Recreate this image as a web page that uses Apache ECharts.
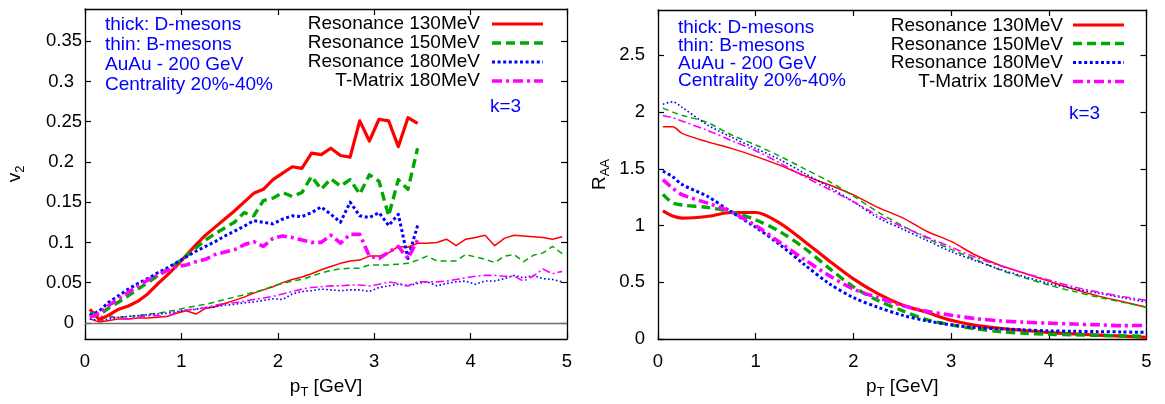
<!DOCTYPE html>
<html>
<head>
<meta charset="utf-8">
<script src="https://cdn.jsdelivr.net/npm/echarts@6/dist/echarts.min.js"></script>
<style>
html,body{margin:0;padding:0;background:#fff;}
#c{width:1165px;height:404px;}
</style>
</head>
<body>
<div id="c"></div>
<script>
// ---------------- DATA ----------------
// Left panel: elliptic flow v2 vs pT
const v2PtD = [0.05,0.15,0.25,0.35,0.45,0.55,0.65,0.75,0.85,0.95,1.05,1.15,1.25,1.35,1.45,1.55,1.65,1.75,1.85,1.95,2.05,2.15,2.25,2.35,2.45,2.55,2.65,2.75,2.85,2.95,3.05,3.15,3.25,3.35,3.45];
const v2D_res130 = [0.017,0.004,0.010,0.017,0.021,0.027,0.036,0.048,0.059,0.071,0.084,0.097,0.109,0.119,0.129,0.139,0.150,0.161,0.166,0.178,0.186,0.194,0.192,0.211,0.209,0.217,0.208,0.206,0.251,0.226,0.253,0.251,0.219,0.255,0.248];
const v2D_res150 = [0.012,0.010,0.019,0.026,0.034,0.042,0.050,0.058,0.066,0.074,0.083,0.093,0.103,0.111,0.118,0.125,0.137,0.133,0.152,0.155,0.162,0.157,0.162,0.182,0.166,0.179,0.170,0.178,0.160,0.184,0.176,0.133,0.178,0.166,0.217];
const v2D_res180 = [0.009,0.015,0.026,0.034,0.042,0.049,0.055,0.062,0.068,0.075,0.082,0.089,0.095,0.101,0.108,0.114,0.120,0.127,0.125,0.123,0.129,0.133,0.132,0.137,0.144,0.135,0.125,0.150,0.133,0.131,0.137,0.121,0.135,0.080,0.121];
const v2D_tm180 = [0.007,0.012,0.022,0.030,0.038,0.046,0.053,0.059,0.065,0.070,0.072,0.076,0.079,0.085,0.088,0.091,0.097,0.101,0.095,0.105,0.108,0.106,0.103,0.100,0.100,0.109,0.099,0.110,0.110,0.083,0.080,0.088,0.095,0.080,0.103];

const v2PtB = [0.05,0.15,0.25,0.35,0.45,0.55,0.65,0.75,0.85,0.95,1.05,1.15,1.25,1.35,1.45,1.55,1.65,1.75,1.85,1.95,2.05,2.15,2.25,2.35,2.45,2.55,2.65,2.75,2.85,2.95,3.05,3.15,3.25,3.35,3.45,3.55,3.65,3.75,3.85,3.95,4.05,4.15,4.25,4.35,4.45,4.55,4.65,4.75,4.85,4.95];
const v2B_res130 = [0.005,0.001,0.003,0.005,0.005,0.006,0.006,0.007,0.008,0.012,0.015,0.011,0.018,0.020,0.024,0.028,0.032,0.037,0.041,0.045,0.050,0.054,0.057,0.061,0.066,0.070,0.074,0.077,0.078,0.083,0.083,0.087,0.095,0.094,0.099,0.099,0.100,0.104,0.096,0.104,0.106,0.109,0.096,0.105,0.109,0.108,0.107,0.106,0.104,0.107];
const v2B_res150 = [0.009,0.006,0.007,0.007,0.008,0.009,0.011,0.012,0.014,0.016,0.019,0.021,0.023,0.026,0.029,0.032,0.035,0.038,0.041,0.046,0.049,0.052,0.054,0.058,0.062,0.065,0.067,0.068,0.068,0.072,0.072,0.072,0.073,0.074,0.078,0.083,0.077,0.077,0.077,0.085,0.082,0.079,0.075,0.083,0.085,0.076,0.084,0.087,0.095,0.086];
const v2B_res180 = [0.005,0.003,0.005,0.007,0.008,0.009,0.010,0.011,0.012,0.014,0.016,0.017,0.019,0.020,0.022,0.023,0.025,0.026,0.028,0.030,0.029,0.036,0.039,0.040,0.042,0.041,0.040,0.041,0.041,0.039,0.044,0.046,0.048,0.046,0.049,0.051,0.046,0.049,0.051,0.052,0.048,0.052,0.052,0.055,0.059,0.056,0.059,0.055,0.054,0.051];
const v2B_tm180 = [0.010,0.008,0.009,0.006,0.005,0.007,0.009,0.009,0.008,0.013,0.016,0.017,0.019,0.022,0.024,0.025,0.027,0.029,0.031,0.033,0.036,0.039,0.042,0.044,0.045,0.046,0.046,0.047,0.047,0.046,0.048,0.051,0.049,0.046,0.051,0.051,0.051,0.052,0.054,0.056,0.058,0.059,0.059,0.058,0.058,0.052,0.058,0.067,0.061,0.064];

// Right panel: nuclear modification factor R_AA vs pT
const raaPt = [0.05,0.15,0.25,0.5,0.75,1.0,1.25,1.5,1.75,2.0,2.25,2.5,2.75,3.0,3.25,3.5,3.75,4.0,4.25,4.5,4.75,5.0];
const raaD_res130 = [1.13,1.085,1.065,1.08,1.115,1.115,1.02,0.86,0.69,0.53,0.40,0.30,0.235,0.165,0.12,0.095,0.075,0.057,0.045,0.035,0.025,0.015];
const raaD_res150 = [1.275,1.20,1.18,1.16,1.12,1.05,0.945,0.80,0.625,0.46,0.34,0.25,0.17,0.125,0.09,0.065,0.05,0.042,0.037,0.032,0.028,0.023];
const raaD_res180 = [1.48,1.43,1.36,1.26,1.12,0.985,0.83,0.655,0.49,0.365,0.28,0.21,0.16,0.125,0.10,0.09,0.08,0.072,0.068,0.065,0.062,0.058];
const raaD_tm180 = [1.405,1.33,1.27,1.20,1.12,1.0,0.85,0.70,0.56,0.44,0.365,0.295,0.245,0.21,0.18,0.16,0.148,0.14,0.132,0.125,0.118,0.12];
const raaB_res130 = [1.87,1.87,1.81,1.74,1.68,1.61,1.53,1.44,1.36,1.27,1.16,1.07,0.95,0.86,0.74,0.65,0.58,0.51,0.44,0.38,0.33,0.28];
const raaB_res150 = [2.035,2.00,1.97,1.91,1.80,1.71,1.61,1.50,1.39,1.26,1.12,1.00,0.89,0.79,0.70,0.61,0.54,0.475,0.42,0.37,0.325,0.28];
const raaB_res180 = [2.07,2.09,2.04,1.89,1.78,1.68,1.58,1.46,1.34,1.21,1.07,0.97,0.87,0.77,0.69,0.615,0.55,0.49,0.445,0.405,0.365,0.325];
const raaB_tm180 = [1.97,1.95,1.92,1.84,1.75,1.66,1.55,1.43,1.32,1.21,1.09,0.99,0.90,0.81,0.72,0.645,0.58,0.52,0.46,0.415,0.375,0.34];

// Tick labels
const xTicks = [0,1,2,3,4,5];
const v2Ticks = [0,0.05,0.1,0.15,0.2,0.25,0.3,0.35];
const raaTicks = [0,0.5,1,1.5,2,2.5];

// Text
const legendNames = ['Resonance 130MeV','Resonance 150MeV','Resonance 180MeV','T-Matrix 180MeV'];
const annotLines = ['thick: D-mesons','thin: B-mesons','AuAu - 200 GeV','Centrality 20%-40%'];
const kText = 'k=3';

// ---------------- STYLE ----------------
const FONT = '"Liberation Sans", Arial, Helvetica, sans-serif';
const FS = 19;
const TFS = 18.5;
const colors = ['#ff0000','#00a800','#0000ff','#ff00ff'];
const thickDash = ['solid',[9,5],[3,2.6],[10,4,3,4]];
const thinDash = ['solid',[6,4],[1.6,2.4],[8,3,2,3]];
const thickW = [3.2,3.4,3,3.6];
const thinW = [1.5,1.5,1.6,1.6];

function pairs(xs, ys){ return xs.map((x,i)=>[x, ys[i]]); }
function mk(name, xs, ys, gi, k, thick, smooth){
  return {
    type:'line', name: name, xAxisIndex: gi*2, yAxisIndex: gi*2,
    data: pairs(xs, ys), symbol:'none', showSymbol:false, smooth: smooth||false,
    clip:true, animation:false, silent:true,
    lineStyle:{color: colors[k], width: thick? thickW[k] : thinW[k], type: thick? thickDash[k] : thinDash[k], cap:'butt', join:'round'},
    z: thick? 3 : 2
  };
}

const tickText = {color:'#000', fontFamily: FONT, fontSize: TFS};
const subRich = {
  a:{fontFamily:FONT, fontSize:FS, color:'#000'},
  s:{fontFamily:FONT, fontSize:13, color:'#000', padding:[11,0,0,0]}
};
function xAxis(gi, pos, showLabel, name){
  const ax = {
    type:'value', gridIndex: gi, position: pos, min:0, max:5, interval:1,
    axisLine:{show:true, onZero:false, lineStyle:{color:'#000', width:1.3}},
    axisTick:{show:true, inside:true, length:6, lineStyle:{color:'#000', width:1.2}},
    axisLabel: Object.assign({show: showLabel, margin:13}, tickText),
    splitLine:{show:false}
  };
  if (name){
    ax.name = name; ax.nameLocation='middle'; ax.nameGap = 36;
    ax.nameTextStyle = {rich: subRich};
  }
  return ax;
}
function yAxis(gi, pos, showLabel, min, max, ticks, name, gap, labelCfg){
  const ax = {
    type:'value', gridIndex: gi, position: pos, min:min, max:max,
    axisLine:{show:true, onZero:false, lineStyle:{color:'#000', width:1.3}},
    axisTick:{show:true, inside:true, length:6, customValues: ticks, lineStyle:{color:'#000', width:1.2}},
    axisLabel: Object.assign({show: showLabel, customValues: ticks}, tickText, labelCfg||{}),
    splitLine:{show:false}
  };
  if (name){
    ax.name = name; ax.nameLocation='middle'; ax.nameGap = gap; ax.nameRotate = 90;
    ax.nameTextStyle = {rich: subRich};
  }
  return ax;
}

// left panel tick labels: two-decimal labels sit further right (as in the figure)
const v2LabelCfg = {
  margin:3,
  formatter: function(v){
    const s = String(+v.toFixed(2));
    return (s.length >= 4) ? '{l|' + s + '}' : '{sh|' + s + '}';
  },
  rich:{
    l:{fontFamily:FONT, fontSize:TFS, color:'#000'},
    sh:{fontFamily:FONT, fontSize:TFS, color:'#000', padding:[0,8,0,0]}
  }
};
const raaLabelCfg = {margin:13};

const series = [];
const dSets = [v2D_res130, v2D_res150, v2D_res180, v2D_tm180];
const bSets = [v2B_res130, v2B_res150, v2B_res180, v2B_tm180];
const rdSets = [raaD_res130, raaD_res150, raaD_res180, raaD_tm180];
const rbSets = [raaB_res130, raaB_res150, raaB_res180, raaB_tm180];
for (let k=0;k<4;k++){
  const s = mk(legendNames[k]+' B', v2PtB, bSets[k], 0, k, false, false);
  if (k===0){
    s.markLine = {silent:true, symbol:['none','none'], label:{show:false}, animation:false,
      lineStyle:{color:'#707070', width:1.4, type:'solid'}, data:[{yAxis:0}]};
  }
  series.push(s);
}
for (let k=0;k<4;k++) series.push(mk(legendNames[k], v2PtD, dSets[k], 0, k, true, false));
for (let k=0;k<4;k++) series.push(mk(legendNames[k]+' B', raaPt, rbSets[k], 1, k, false, 0.3));
for (let k=0;k<4;k++) series.push(mk(legendNames[k], raaPt, rdSets[k], 1, k, true, 0.3));

// graphic texts / legend
const graphic = [];
function addPanelText(x0, yList, legRight, legY, lineX1, lineX2, lineY, kx, ky){
  annotLines.forEach((t,i)=>graphic.push({type:'text', silent:true, z:10,
    style:{text:t, x:x0, y:yList[i], fill:'#0000ff', font: FS+'px '+FONT, textAlign:'left', textVerticalAlign:'middle'}}));
  legendNames.forEach((t,i)=>{
    graphic.push({type:'text', silent:true, z:10,
      style:{text:t, x:legRight, y:legY[i], fill:'#000', font: FS+'px '+FONT, textAlign:'right', textVerticalAlign:'middle'}});
    graphic.push({type:'line', silent:true, z:10,
      shape:{x1:lineX1, y1:lineY[i], x2:lineX2, y2:lineY[i]},
      style:{stroke:colors[i], lineWidth: thickW[i], lineDash: thickDash[i]==='solid'? null : thickDash[i], lineCap:'butt'}});
  });
  graphic.push({type:'text', silent:true, z:10,
    style:{text:kText, x:kx, y:ky, fill:'#0000ff', font: FS+'px '+FONT, textAlign:'left', textVerticalAlign:'middle'}});
}
addPanelText(105, [25,45,65,85], 480, [24,43,62,81], 492, 543, [24,43,62,81], 490, 107);
addPanelText(678, [28,45.5,63.5,81], 1063, [25.5,44.5,63,82], 1073, 1124, [25,43.5,62.5,81.5], 1069, 114);

const option = {
  backgroundColor:'#fff',
  animation:false,
  grid:[
    {left:85, top:9, width:482, height:335, show:false},
    {left:658, top:10, width:488.5, height:333.3, show:false}
  ],
  xAxis:[
    xAxis(0,'bottom',true,'{a|p}{s|T}{a| [GeV]}'),
    xAxis(0,'top',false),
    xAxis(1,'bottom',true,'{a|p}{s|T}{a| [GeV]}'),
    xAxis(1,'top',false)
  ],
  yAxis:[
    yAxis(0,'left',true,-0.02,0.39,v2Ticks,'{a|v}{s|2}',58,v2LabelCfg),
    yAxis(0,'right',false,-0.02,0.39,v2Ticks),
    yAxis(1,'left',true,0,2.9,raaTicks,'{a|R}{s|AA}',46,raaLabelCfg),
    yAxis(1,'right',false,0,2.9,raaTicks)
  ],
  series: series,
  graphic: graphic
};
const chart = echarts.init(document.getElementById('c'), null, {renderer:'canvas'});
chart.setOption(option);
</script>
</body>
</html>
